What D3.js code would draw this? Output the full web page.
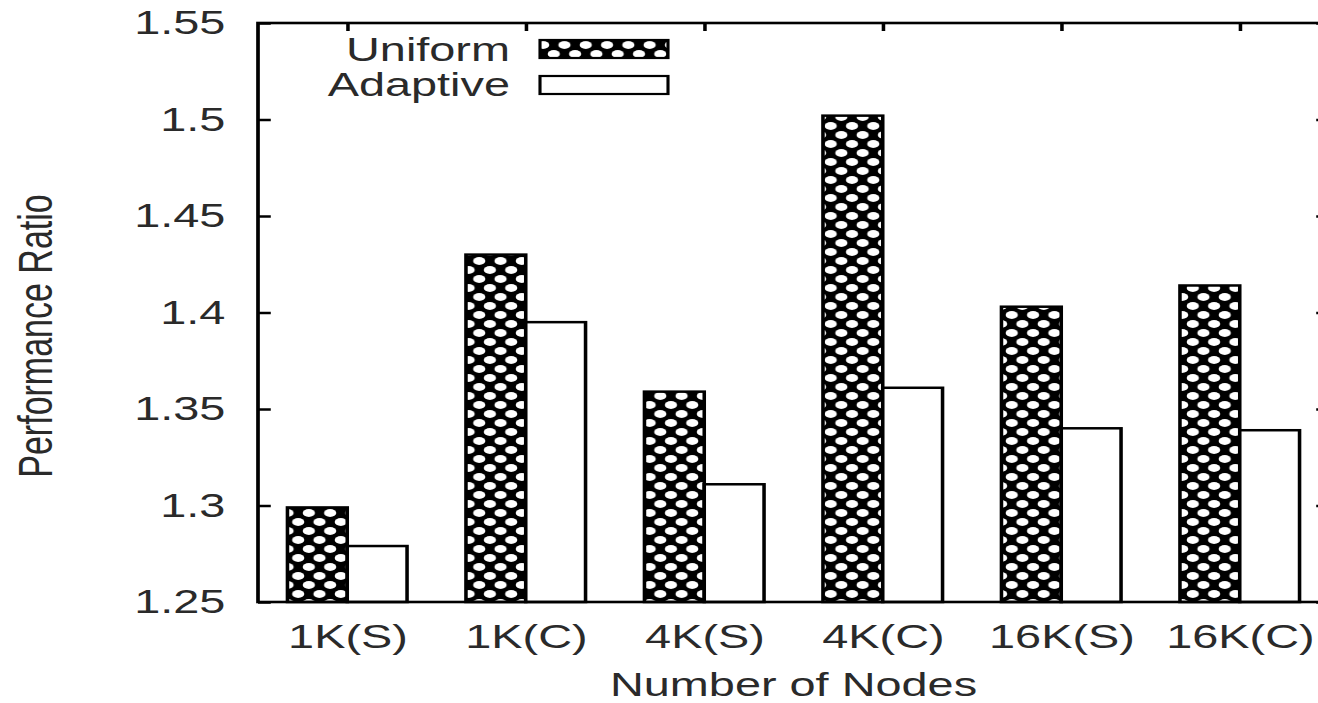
<!DOCTYPE html>
<html>
<head>
<meta charset="utf-8">
<script src="https://cdn.jsdelivr.net/npm/d3@7"></script>
<style>
  body { margin: 0; background: #fff; }
  text { font-family: "Liberation Sans", Arial, Helvetica, sans-serif; fill: #2a2a2a; }
</style>
</head>
<body>
<div id="container"></div>
<script>
// data
var categories = ["1K(S)", "1K(C)", "4K(S)", "4K(C)", "16K(S)", "16K(C)"];
var uniform = [1.299, 1.430, 1.359, 1.502, 1.403, 1.414];
var adaptive = [1.279, 1.395, 1.311, 1.361, 1.340, 1.339];
var yTicks = [1.25, 1.3, 1.35, 1.4, 1.45, 1.5, 1.55];
var seriesNames = ["Uniform", "Adaptive"];

// the original picture is stretched sideways, so draw in a narrower
// space and scale the whole thing on x
var sx = 1.42;
var W = 1318, H = 703;

var plotLeft = 258 / sx, plotRight = 1329 / sx, plotTop = 23, plotBottom = 602;
var fontSize = 33;
var textColor = "#2a2a2a";

window.onload = function() {
  var svg = d3.select("#container").append("svg")
    .attr("width", W)
    .attr("height", H);

  svg.append("rect").attr("width", W).attr("height", H).attr("fill", "#fff");

  // crosshatch pattern, black with white holes
  var defs = svg.append("defs");
  var pat = defs.append("pattern")
    .attr("id", "hatch")
    .attr("patternUnits", "userSpaceOnUse")
    .attr("width", 15)
    .attr("height", 18);
  pat.append("rect").attr("width", 15).attr("height", 18).attr("fill", "#000");
  [[0, 0], [15, 0], [0, 18], [15, 18], [7.5, 9]].forEach(function(p) {
    pat.append("ellipse")
      .attr("cx", p[0]).attr("cy", p[1])
      .attr("rx", 4.3).attr("ry", 3.9)
      .attr("fill", "#fff");
  });

  var g = svg.append("g").attr("transform", "scale(" + sx + ",1)");

  var x = d3.scaleLinear().domain([-0.5, categories.length - 0.5]).range([plotLeft, plotRight]);
  var y = d3.scaleLinear().domain([1.25, 1.55]).range([plotBottom, plotTop]);
  var bw = 0.335;

  // axes (ticks inward, gnuplot style)
  var yAxis = d3.axisLeft(y).tickValues(yTicks)
    .tickSizeInner(-9).tickSizeOuter(0).tickPadding(23)
    .tickFormat(function(d) { return String(+d.toFixed(2)); });
  var ya = g.append("g").attr("transform", "translate(" + plotLeft + ",0)").call(yAxis);
  ya.select(".domain").remove();
  ya.selectAll("line").attr("stroke", "#000").attr("stroke-width", 2.5);
  ya.selectAll("text").attr("font-size", fontSize).attr("fill", textColor);

  var yr = g.append("g").attr("transform", "translate(" + plotRight + ",0)")
    .call(d3.axisRight(y).tickValues(yTicks).tickSizeInner(-9).tickSizeOuter(0).tickFormat(""));
  yr.select(".domain").remove();
  yr.selectAll("line").attr("stroke", "#000").attr("stroke-width", 2.5);

  var idx = d3.range(categories.length);
  var xt = g.append("g").attr("transform", "translate(0," + plotTop + ")")
    .call(d3.axisTop(x).tickValues(idx).tickSizeInner(-8).tickSizeOuter(0).tickFormat(""));
  xt.select(".domain").remove();
  xt.selectAll("line").attr("stroke", "#000").attr("stroke-width", 2.5);

  var xb = g.append("g").attr("transform", "translate(0," + plotBottom + ")")
    .call(d3.axisBottom(x).tickValues(idx).tickSizeInner(-8).tickSizeOuter(0).tickPadding(23)
      .tickFormat(function(i) { return categories[i]; }));
  xb.select(".domain").remove();
  xb.selectAll("line").attr("stroke", "#000").attr("stroke-width", 2.5);
  xb.selectAll("text").attr("font-size", fontSize).attr("fill", textColor);

  // bars
  g.append("g").selectAll("rect")
    .data(uniform)
    .enter().append("rect")
    .attr("x", function(d, i) { return x(i - bw); })
    .attr("y", function(d) { return y(d); })
    .attr("width", x(bw) - x(0))
    .attr("height", function(d) { return y(1.25) - y(d); })
    .attr("fill", "url(#hatch)")
    .attr("stroke", "#000")
    .attr("stroke-width", 2.5);

  g.append("g").selectAll("rect")
    .data(adaptive)
    .enter().append("rect")
    .attr("x", function(d, i) { return x(i); })
    .attr("y", function(d) { return y(d); })
    .attr("width", x(bw) - x(0))
    .attr("height", function(d) { return y(1.25) - y(d); })
    .attr("fill", "#fff")
    .attr("stroke", "#000")
    .attr("stroke-width", 2.5);

  // frame
  g.append("rect")
    .attr("x", plotLeft).attr("y", plotTop)
    .attr("width", plotRight - plotLeft).attr("height", plotBottom - plotTop)
    .attr("fill", "none").attr("stroke", "#000").attr("stroke-width", 2.6);

  // legend
  var legY = [61, 96];
  var boxY = [40, 76];
  var leg = g.append("g");
  seriesNames.forEach(function(name, i) {
    leg.append("text")
      .attr("x", 510 / sx).attr("y", legY[i])
      .attr("text-anchor", "end")
      .attr("font-size", fontSize)
      .text(name);
    leg.append("rect")
      .attr("x", 540 / sx).attr("y", boxY[i])
      .attr("width", 128 / sx).attr("height", 18)
      .attr("fill", i === 0 ? "url(#hatch)" : "#fff")
      .attr("stroke", "#000").attr("stroke-width", 2.2);
  });

  // axis titles
  g.append("text")
    .attr("x", (plotLeft + plotRight) / 2).attr("y", 696)
    .attr("text-anchor", "middle")
    .attr("font-size", fontSize)
    .text("Number of Nodes");

  g.append("text")
    .attr("transform", "translate(" + (52 / sx) + ",336) rotate(-90)")
    .attr("text-anchor", "middle")
    .attr("font-size", 34)
    .text("Performance Ratio");
};
</script>
</body>
</html>
